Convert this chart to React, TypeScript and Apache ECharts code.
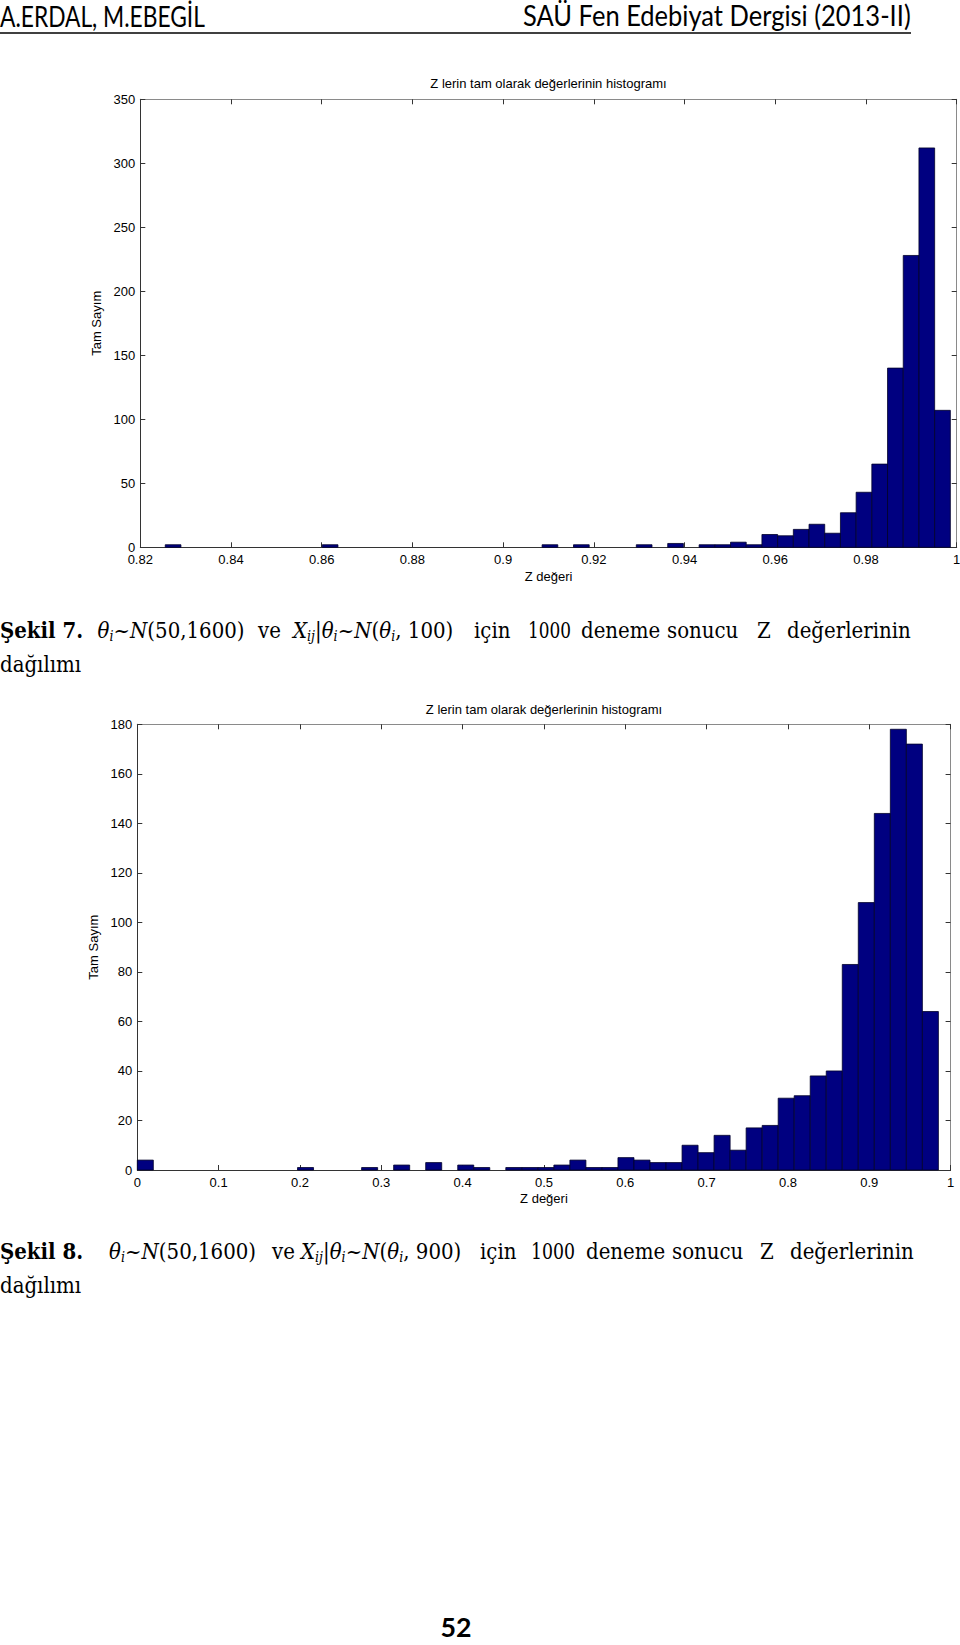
import React, { useEffect, useRef } from "react";
import * as echarts from "echarts";

// ---------- DATA ----------
// Figure 7 histogram (50 bins)
const hist1Min = 0.8255;
const hist1BinWidth = 0.003462;
const hist1Counts = [
  2, 0, 0, 0, 0, 0, 0, 0, 0, 0,
  2, 0, 0, 0, 0, 0, 0, 0, 0, 0,
  0, 0, 0, 0, 2, 0, 2, 0, 0, 0,
  2, 0, 3, 0, 2, 2, 4, 2, 10, 9,
  14, 18, 11, 27, 43, 65, 140, 228, 312, 107,
];
const xTicks1 = [0.82, 0.84, 0.86, 0.88, 0.9, 0.92, 0.94, 0.96, 0.98, 1];
const yTicks1 = [0, 50, 100, 150, 200, 250, 300, 350];

// Figure 8 histogram (50 bins)
const hist2Min = 0;
const hist2BinWidth = 0.0197;
const hist2Counts = [
  4, 0, 0, 0, 0, 0, 0, 0, 0, 0,
  1, 0, 0, 0, 1, 0, 2, 0, 3, 0,
  2, 1, 0, 1, 1, 1, 2, 4, 1, 1,
  5, 4, 3, 3, 10, 7, 14, 8, 17, 18,
  29, 30, 38, 40, 83, 108, 144, 178, 172, 64,
];
const xTicks2 = [0, 0.1, 0.2, 0.3, 0.4, 0.5, 0.6, 0.7, 0.8, 0.9, 1];
const yTicks2 = [0, 20, 40, 60, 80, 100, 120, 140, 160, 180];

const chartTitle = "Z lerin tam olarak değerlerinin histogramı";
const xName = "Z değeri";
const yName = "Tam Sayım";

// ---------- helpers ----------
type FontSpec = { size: number; family: string; weight?: string; style?: string };

let measureCtx: CanvasRenderingContext2D | null = null;
function measure(text: string, f: FontSpec): number {
  if (!measureCtx) measureCtx = document.createElement("canvas").getContext("2d");
  measureCtx!.font = `${f.style || "normal"} ${f.weight || "normal"} ${f.size}px "${f.family}"`;
  return measureCtx!.measureText(text).width;
}

type Run = { text: string; font: FontSpec; dy?: number };

function layoutRuns(runs: Run[]) {
  let cx = 0;
  const children: any[] = [];
  for (const r of runs) {
    const w = measure(r.text, r.font);
    children.push({
      type: "text",
      x: cx,
      y: r.dy || 0,
      style: {
        text: r.text,
        fontSize: r.font.size,
        fontFamily: r.font.family,
        fontWeight: r.font.weight || "normal",
        fontStyle: r.font.style || "normal",
        fill: "#000",
        textAlign: "left",
        textVerticalAlign: "middle",
        verticalAlign: "middle",
      },
    });
    cx += w;
  }
  return { children, width: cx };
}

// fit runs between x0 and x1
function runsGroup(runs: Run[], x0: number, x1: number, cy: number) {
  const { children, width } = layoutRuns(runs);
  const s = width > 0 ? (x1 - x0) / width : 1;
  return { type: "group", x: x0, y: cy, scaleX: s, children };
}

// runs starting at x0 with a fixed horizontal scale
function runsAt(runs: Run[], x0: number, cy: number, s: number) {
  const { children } = layoutRuns(runs);
  return { type: "group", x: x0, y: cy, scaleX: s, children };
}

const SERIF = "DejaVu Serif";
const CAP_SCALE = 0.9;
const F: FontSpec = { size: 22, family: SERIF };
const FB: FontSpec = { size: 22, family: SERIF, weight: "bold" };
const FI: FontSpec = { size: 22, family: SERIF, style: "italic" };
const FS: FontSpec = { size: 14, family: SERIF, style: "italic" };
const SUB = 5.5;

function captionWords(num: string, variance: string, xs: number[], numEnd: number, cy: number) {
  const math1: Run[] = [
    { text: "θ", font: FI },
    { text: "i", font: FS, dy: SUB },
    { text: "~", font: F },
    { text: "N", font: FI },
    { text: "(50,1600)", font: F },
  ];
  const math2: Run[] = [
    { text: "X", font: FI },
    { text: "ij", font: FS, dy: SUB },
    { text: "|", font: F },
    { text: "θ", font: FI },
    { text: "i", font: FS, dy: SUB },
    { text: "~", font: F },
    { text: "N", font: FI },
    { text: "(", font: F },
    { text: "θ", font: FI },
    { text: "i", font: FS, dy: SUB },
    { text: ", " + variance + ")", font: F },
  ];
  const words: Run[][] = [
    [{ text: "Şekil " + num + ".", font: FB }],
    math1,
    [{ text: "ve", font: F }],
    math2,
    [{ text: "için", font: F }],
    [{ text: "1000", font: F }],
    [{ text: "deneme", font: F }],
    [{ text: "sonucu", font: F }],
    [{ text: "Z", font: F }],
    [{ text: "değerlerinin", font: F }],
  ];
  return words.map((w, i) =>
    i === 5 ? runsGroup(w, xs[i], numEnd, cy) : runsAt(w, xs[i], cy, CAP_SCALE)
  );
}

function fmt(v: number) {
  return String(parseFloat(v.toFixed(2)));
}

function histData(min: number, w: number, counts: number[]) {
  const out: number[][] = [];
  counts.forEach((c, i) => {
    if (c > 0) out.push([min + i * w, min + (i + 1) * w, c]);
  });
  return out;
}

const AXIS_DARK = "#333";
const AXIS_LIGHT = "#8a8a8a";
const LABEL_FONT = "Liberation Sans";

function xAxes(grid: number, ticks: number[], nameGap: number) {
  const min = ticks[0];
  const max = ticks[ticks.length - 1];
  const interval = parseFloat((ticks[1] - ticks[0]).toFixed(4));
  return [
    {
      gridIndex: grid,
      type: "value",
      position: "bottom",
      min,
      max,
      interval,
      name: xName,
      nameLocation: "middle",
      nameGap,
      nameTextStyle: { fontFamily: LABEL_FONT, fontSize: 13, color: "#000" },
      axisLine: { show: true, onZero: false, lineStyle: { color: AXIS_DARK, width: 1 } },
      axisTick: { show: true, inside: true, length: 5, lineStyle: { color: AXIS_DARK } },
      axisLabel: { margin: 6, fontFamily: LABEL_FONT, fontSize: 13, color: "#000", formatter: fmt },
      splitLine: { show: false },
    },
    {
      gridIndex: grid,
      type: "value",
      position: "top",
      min,
      max,
      interval,
      axisLine: { show: true, onZero: false, lineStyle: { color: AXIS_LIGHT, width: 1 } },
      axisTick: { show: true, inside: true, length: 5, lineStyle: { color: AXIS_DARK } },
      axisLabel: { show: false },
      splitLine: { show: false },
    },
  ];
}

function yAxes(grid: number, ticks: number[], nameGap: number) {
  const min = ticks[0];
  const max = ticks[ticks.length - 1];
  const interval = ticks[1] - ticks[0];
  return [
    {
      gridIndex: grid,
      type: "value",
      position: "left",
      min,
      max,
      interval,
      name: yName,
      nameLocation: "middle",
      nameGap,
      nameTextStyle: { fontFamily: LABEL_FONT, fontSize: 13, color: "#000" },
      axisLine: { show: true, onZero: false, lineStyle: { color: AXIS_DARK, width: 1 } },
      axisTick: { show: true, inside: true, length: 5, lineStyle: { color: AXIS_DARK } },
      axisLabel: { margin: 5, fontFamily: LABEL_FONT, fontSize: 13, color: "#000" },
      splitLine: { show: false },
    },
    {
      gridIndex: grid,
      type: "value",
      position: "right",
      min,
      max,
      interval,
      axisLine: { show: true, onZero: false, lineStyle: { color: AXIS_LIGHT, width: 1 } },
      axisTick: { show: true, inside: true, length: 5, lineStyle: { color: AXIS_DARK } },
      axisLabel: { show: false },
      splitLine: { show: false },
    },
  ];
}

function histSeries(axisIndex: number, data: number[][]) {
  return {
    type: "custom",
    xAxisIndex: axisIndex,
    yAxisIndex: axisIndex,
    data,
    encode: { x: [0, 1], y: 2 },
    clip: false,
    silent: true,
    renderItem: (_params: any, api: any) => {
      const p0 = api.coord([api.value(0), api.value(2)]);
      const p1 = api.coord([api.value(1), 0]);
      return {
        type: "rect",
        shape: { x: p0[0], y: p0[1], width: p1[0] - p0[0], height: p1[1] - p0[1] },
        style: { fill: "#000080", stroke: "#00002a", lineWidth: 0.8 },
      };
    },
  };
}

function buildOption() {
  const graphics: any[] = [];
  const HEAD: FontSpec = { size: 28, family: "Lato" };
  // header
  graphics.push(runsGroup([{ text: "A.ERDAL, M.EBEGİL", font: HEAD }], 0, 205, 16));
  graphics.push(runsGroup([{ text: "SAÜ Fen Edebiyat Dergisi (2013-II)", font: HEAD }], 523, 911, 16));
  graphics.push({
    type: "line",
    shape: { x1: 0, y1: 33, x2: 911, y2: 33 },
    style: { stroke: "#000", lineWidth: 1.6 },
  });
  // caption 7 (word start positions of the justified line)
  const xs7 = [0, 97.5, 258, 293, 474, 528, 581, 667, 757, 787];
  graphics.push(...captionWords("7", "100", xs7, 571, 630.5));
  graphics.push(runsAt([{ text: "dağılımı", font: F }], 0, 665, CAP_SCALE));
  // caption 8
  const xs8 = [0, 109, 272, 301, 480, 531, 586, 672, 760, 790];
  graphics.push(...captionWords("8", "900", xs8, 575, 1251.5));
  graphics.push(runsAt([{ text: "dağılımı", font: F }], 0, 1286, CAP_SCALE));
  // page number
  graphics.push(
    runsGroup([{ text: "52", font: { size: 27, family: "Lato", weight: "bold" } }], 440.5, 471.5, 1626)
  );

  return {
    animation: false,
    backgroundColor: "#fff",
    title: [
      {
        text: chartTitle,
        left: 548.5,
        top: 76.5,
        textAlign: "center",
        padding: 0,
        textStyle: { fontFamily: LABEL_FONT, fontSize: 13, fontWeight: "normal", color: "#000" },
      },
      {
        text: chartTitle,
        left: 544,
        top: 703,
        textAlign: "center",
        padding: 0,
        textStyle: { fontFamily: LABEL_FONT, fontSize: 13, fontWeight: "normal", color: "#000" },
      },
    ],
    grid: [
      { left: 140.3, top: 99.3, width: 816.4, height: 448, containLabel: false, outerBoundsMode: "none" },
      { left: 137.3, top: 724.3, width: 813.3, height: 445.7, containLabel: false, outerBoundsMode: "none" },
    ],
    xAxis: [...xAxes(0, xTicks1, 23), ...xAxes(1, xTicks2, 22)],
    yAxis: [...yAxes(0, yTicks1, 37), ...yAxes(1, yTicks2, 34)],
    series: [
      histSeries(0, histData(hist1Min, hist1BinWidth, hist1Counts)),
      histSeries(2, histData(hist2Min, hist2BinWidth, hist2Counts)),
    ],
    graphic: { elements: graphics },
  };
}

export default function App() {
  const ref = useRef<HTMLDivElement>(null);
  useEffect(() => {
    document.body.style.margin = "0";
    const chart = echarts.init(ref.current!, null, { renderer: "svg" });
    chart.setOption(buildOption() as any);
    return () => {
      chart.dispose();
    };
  }, []);
  return <div ref={ref} style={{ width: 960, height: 1645, background: "#fff" }} />;
}
